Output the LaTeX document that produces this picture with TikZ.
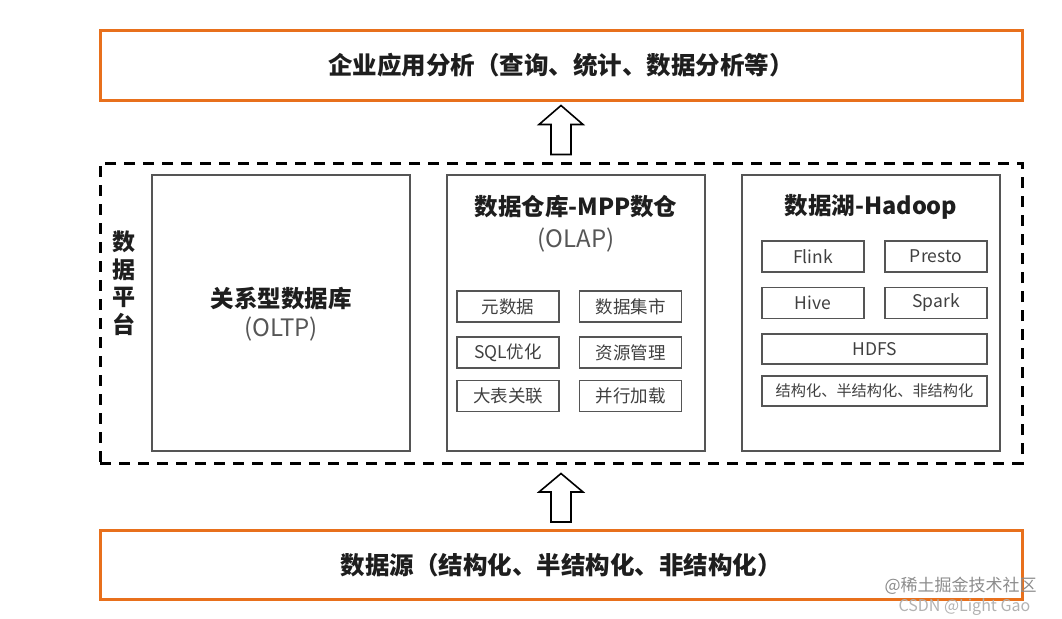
\documentclass[tikz,border=0pt]{standalone}
\usepackage{fontspec}
\setmainfont{Noto Sans CJK SC}
\usetikzlibrary{calc}

\definecolor{layerorange}{RGB}{232,112,28}
\definecolor{boxgray}{RGB}{85,85,85}
\definecolor{textdark}{RGB}{30,30,30}

\tikzset{
  layer/.style={draw=layerorange, line width=3pt, minimum width=922, minimum height=69,
    font=\fontsize{24.5}{28}\selectfont\bfseries, text=textdark},
  platform/.style={draw=black, line width=3pt, dash pattern=on 11pt off 8pt,
    minimum width=922, minimum height=300},
  column/.style={draw=boxgray, line width=1.3pt, minimum width=258, minimum height=276},
  part/.style={draw=boxgray, line width=1.3pt, minimum width=102, minimum height=31,
    inner sep=0pt, font=\fontsize{17.5}{19}\selectfont, text=textdark!85},
  coltitle/.style={font=\fontsize{23.5}{26}\selectfont\bfseries, text=textdark},
  colsub/.style={font=\fontsize{24}{26}\selectfont, text=textdark!75},
  hollow/.style={draw=black, line width=1.6pt, fill=white, line join=miter},
}

\begin{document}
\begin{tikzpicture}[x=1pt, y=-1pt]
  \useasboundingbox (0,0) rectangle (1062,618);

  % layers
  \node[layer] (app) at (561,65.5) {企业应用分析（查询、统计、数据分析等）};
  \node[platform] (plat) at (561,313) {};
  \node[layer] (src) at (561,565) {数据源（结构化、半结构化、非结构化）};
  \node[font=\fontsize{23}{27.5}\selectfont\bfseries, text=textdark, align=center] (platname)
    at (124,283) {数\\据\\平\\台};

  % columns
  \node[column] (oltp) at (281,313) {};
  \node[column] (dw) at (576,313) {};
  \node[column] (lake) at (871,313) {};

  \node[coltitle] (oltpname) at (281,299) {关系型数据库};
  \node[colsub] (oltpsub) at (281,329) {(OLTP)};

  \node[coltitle] (dwname) at (576,207) {数据仓库-MPP数仓};
  \node[colsub] (dwsub) at (576,240) {(OLAP)};
  \node[part] (meta) at (508,306.5) {元数据};
  \node[part] (mart) at (630.5,306.5) {数据集市};
  \node[part] (sql) at (508,352.5) {SQL优化};
  \node[part] (res) at (630.5,352.5) {资源管理};
  \node[part] (join) at (508,396) {大表关联};
  \node[part] (load) at (630.5,396) {并行加载};

  \node[coltitle] (lakename) at (871,207) {数据湖-Hadoop};
  \node[part] (flink) at (813,256.5) {Flink};
  \node[part] (presto) at (936,256.5) {Presto};
  \node[part] (hive) at (813,303) {Hive};
  \node[part] (spark) at (936,303) {Spark};
  \node[part, minimum width=225, minimum height=30] (hdfs) at (874.5,349) {HDFS};
  \node[part, minimum width=225, minimum height=30, font=\fontsize{15.2}{17}\selectfont]
    (kinds) at (874.5,391) {结构化、半结构化、非结构化};

  % block arrows
  \draw[hollow] ($(plat.north)+(-10,-7)$) -- ++(0,-30) -- ++(-12,0) -- ($(app.south)+(0,4)$)
    -- ($(plat.north)+(22,-37)$) -- ++(-12,0) -- ++(0,30) -- cycle;
  \draw[hollow] ($(src.north)+(-10,-7)$) -- ++(0,-30) -- ++(-12,0) -- ($(plat.south)+(0,9)$)
    -- ($(src.north)+(22,-37)$) -- ++(-12,0) -- ++(0,30) -- cycle;

  % watermark
  \node[font=\fontsize{17}{19}\selectfont, text=black!45, anchor=west] (mark1) at (881,586) {@稀土掘金技术社区};
  \node[font=\fontsize{16}{18}\selectfont, text=black!30, anchor=west] (mark2) at (895,607) {CSDN @Light Gao};
\end{tikzpicture}
\end{document}
